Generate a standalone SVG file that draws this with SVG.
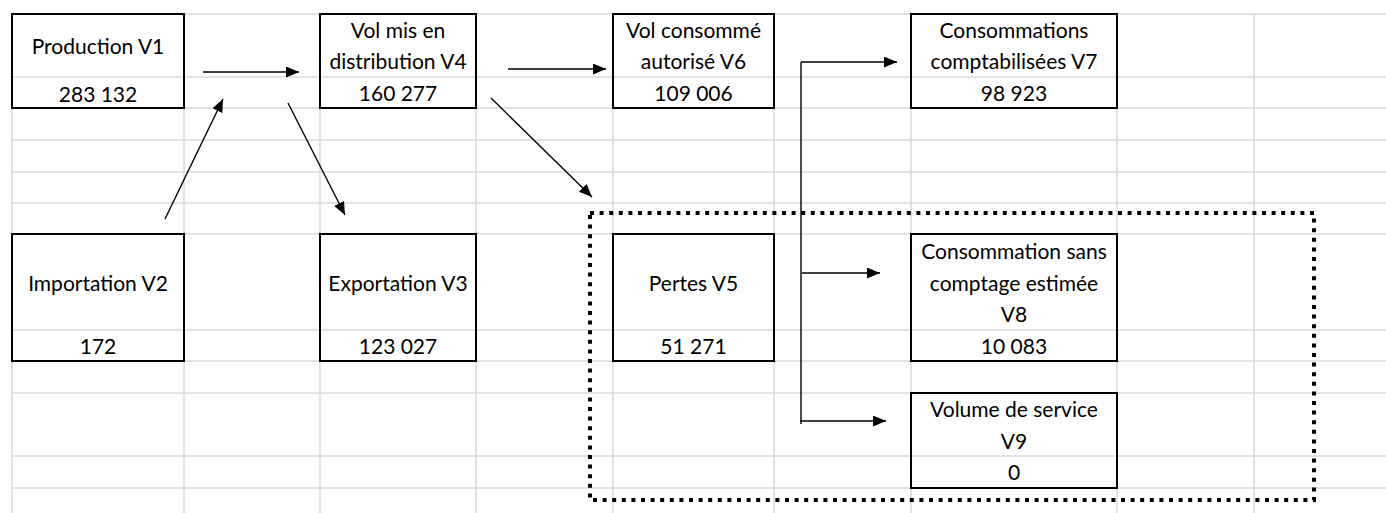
<svg xmlns="http://www.w3.org/2000/svg" width="1386" height="513" viewBox="0 0 1386 513">
<defs>
<marker id="ah" markerUnits="userSpaceOnUse" markerWidth="14" markerHeight="12" refX="13" refY="5.5" orient="auto">
<path d="M0,0 L13,5.5 L0,11 Z" fill="#000"/>
</marker>
<style>
.grid line{stroke:#d9d9d9;stroke-width:1.5}
.box{fill:none;stroke:#000;stroke-width:2}
text{font-family:Lato,"Liberation Sans",sans-serif;font-size:21px;fill:#000;text-anchor:middle}
.conn line,.conn path{stroke:#000;stroke-width:1.4;fill:none}
.arr{marker-end:url(#ah)}
.dots{fill:none;stroke:#000;stroke-width:4;stroke-dasharray:4 5.6}
</style>
</defs>
<rect width="1386" height="513" fill="#fff"/>
<g class="grid">
<line x1="12" y1="14" x2="1386" y2="14"/>
<line x1="12" y1="77" x2="1386" y2="77"/>
<line x1="12" y1="108" x2="1386" y2="108"/>
<line x1="12" y1="140" x2="1386" y2="140"/>
<line x1="12" y1="172" x2="1386" y2="172"/>
<line x1="12" y1="203" x2="1386" y2="203"/>
<line x1="12" y1="234" x2="1386" y2="234"/>
<line x1="12" y1="330" x2="1386" y2="330"/>
<line x1="12" y1="361" x2="1386" y2="361"/>
<line x1="12" y1="393" x2="1386" y2="393"/>
<line x1="12" y1="456" x2="1386" y2="456"/>
<line x1="12" y1="488" x2="1386" y2="488"/>
<line x1="12" y1="14" x2="12" y2="513"/>
<line x1="184" y1="14" x2="184" y2="513"/>
<line x1="320" y1="14" x2="320" y2="513"/>
<line x1="476" y1="14" x2="476" y2="513"/>
<line x1="613" y1="14" x2="613" y2="513"/>
<line x1="774" y1="14" x2="774" y2="513"/>
<line x1="911" y1="14" x2="911" y2="513"/>
<line x1="1117" y1="14" x2="1117" y2="513"/>
<line x1="1254" y1="14" x2="1254" y2="513"/>
</g>
<rect class="dots" x="590" y="213" width="724" height="287"/>
<g id="v1"><rect class="box" x="12" y="14" width="172" height="94"/><text x="98" y="54">Production V1</text><text x="98" y="101.5">283 132</text></g>
<g id="v4"><rect class="box" x="320" y="14" width="156" height="94"/><text x="398" y="37.5">Vol mis en</text><text x="398" y="69">distribution V4</text><text x="398" y="100.5">160 277</text></g>
<g id="v6"><rect class="box" x="613" y="14" width="161" height="94"/><text x="693.5" y="37.5">Vol consommé</text><text x="693.5" y="69">autorisé V6</text><text x="693.5" y="100.5">109 006</text></g>
<g id="v7"><rect class="box" x="911" y="14" width="206" height="94"/><text x="1014" y="37.5">Consommations</text><text x="1014" y="69">comptabilisées V7</text><text x="1014" y="100.5">98 923</text></g>
<g id="v2"><rect class="box" x="12" y="234" width="172" height="127"/><text x="98" y="291">Importation V2</text><text x="98" y="354">172</text></g>
<g id="v3"><rect class="box" x="320" y="234" width="156" height="127"/><text x="398" y="291">Exportation V3</text><text x="398" y="354">123 027</text></g>
<g id="v5"><rect class="box" x="613" y="234" width="161" height="127"/><text x="693.5" y="291">Pertes V5</text><text x="693.5" y="354">51 271</text></g>
<g id="v8"><rect class="box" x="911" y="234" width="206" height="127"/><text x="1014" y="259">Consommation sans</text><text x="1014" y="290.5">comptage estimée</text><text x="1014" y="322">V8</text><text x="1014" y="354">10 083</text></g>
<g id="v9"><rect class="box" x="911" y="393" width="206" height="95"/><text x="1014" y="417">Volume de service</text><text x="1014" y="449">V9</text><text x="1014" y="480">0</text></g>
<g class="conn">
<line class="arr" x1="203" y1="72" x2="299" y2="72"/>
<line class="arr" x1="165" y1="219" x2="223" y2="99"/>
<line class="arr" x1="288" y1="103" x2="345" y2="215"/>
<line class="arr" x1="508" y1="69" x2="606" y2="69"/>
<line class="arr" x1="491" y1="98" x2="592" y2="197"/>
<line x1="801" y1="62" x2="801" y2="424"/>
<line class="arr" x1="801" y1="62" x2="897" y2="62"/>
<line class="arr" x1="802" y1="273" x2="880" y2="273"/>
<line class="arr" x1="800" y1="421" x2="886" y2="421"/>
</g>
</svg>
